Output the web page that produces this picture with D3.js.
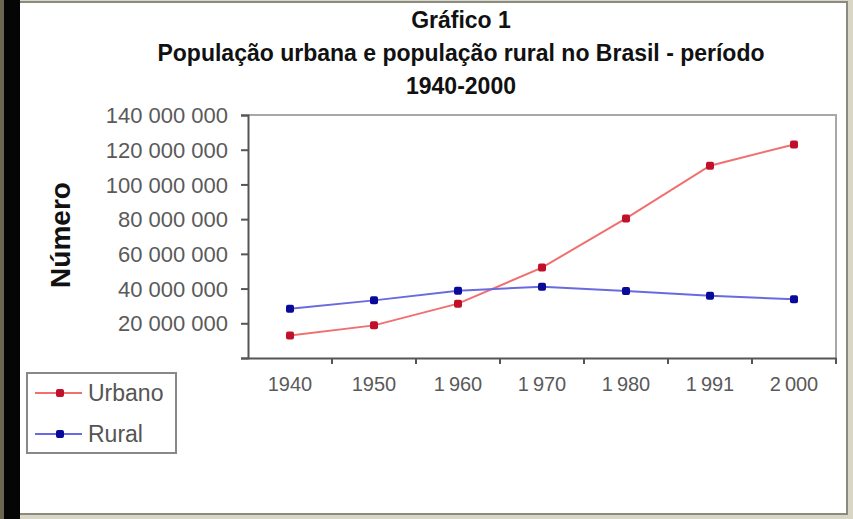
<!DOCTYPE html>
<html>
<head>
<meta charset="utf-8">
<script src="https://cdn.jsdelivr.net/npm/d3@7"></script>
<style>
  body { margin: 0; background: #fff; }
  svg text { font-family: "Liberation Sans", Arial, sans-serif; }
</style>
</head>
<body>
<div id="chart"></div>
<script>
// chart data
var years = ["1940", "1950", "1\u202F960", "1\u202F970", "1\u202F980", "1\u202F991", "2\u202F000"];
var urbano = [12900000, 18800000, 31300000, 52100000, 80400000, 110800000, 123000000];
var rural = [28400000, 33200000, 38800000, 41100000, 38600000, 35800000, 33900000];
var yTicks = [0, 20000000, 40000000, 60000000, 80000000, 100000000, 120000000, 140000000];
var titleLines = ["Gráfico 1", "População urbana e população rural no Brasil - período", "1940-2000"];

var width = 853, height = 519;
var margin = {top: 115, right: 17, bottom: 160, left: 248};

var svg = d3.select("#chart")
    .append("svg")
    .attr("width", width)
    .attr("height", height);

// outer frame
svg.append("rect").attr("x", 0).attr("y", 0).attr("width", width).attr("height", height).attr("fill", "#d9d6c6");
svg.append("rect").attr("x", 5).attr("y", 2).attr("width", 842).attr("height", 512).attr("fill", "#fff")
    .attr("stroke", "#8a8a80").attr("stroke-width", 2);
svg.append("rect").attr("x", 0).attr("y", 0).attr("width", 20).attr("height", height).attr("fill", "#050505");
svg.append("rect").attr("x", 0).attr("y", 0).attr("width", 4).attr("height", height).attr("fill", "#6b6650");

var x = d3.scaleBand()
    .domain(years)
    .range([margin.left, width - margin.right]);

var y = d3.scaleLinear()
    .domain([0, 140000000])
    .range([height - margin.bottom - 1, margin.top]);

// plot border (top/right)
svg.append("path")
    .attr("d", "M" + margin.left + "," + margin.top + "H" + (width - margin.right) + "V" + y(0))
    .attr("fill", "none")
    .attr("stroke", "#a8a8a8")
    .attr("stroke-width", 2);

// y axis
var fmt = function(d) {
    if (d === 0) return "";
    return d3.format(",")(d).replace(/,/g, " ");
};
var yAxis = svg.append("g")
    .attr("transform", "translate(" + margin.left + ",0)")
    .call(d3.axisLeft(y).tickValues(yTicks).tickFormat(fmt).tickSize(7).tickPadding(13));
yAxis.selectAll("text")
    .attr("fill", "#5a5a5a")
    .style("font-size", "22px")
    .attr("dy", "0.35em");

// x axis - ticks at category boundaries
var xAxis = svg.append("g")
    .attr("transform", "translate(0," + y(0) + ")")
    .call(d3.axisBottom(x).tickSize(0).tickPadding(19));
xAxis.selectAll("text")
    .attr("fill", "#5a5a5a")
    .style("font-size", "20px");
xAxis.selectAll(".tick")
    .append("line")
    .attr("x1", x.bandwidth() / 2).attr("x2", x.bandwidth() / 2)
    .attr("y1", 0).attr("y2", 6)
    .attr("stroke", "#555");

svg.selectAll(".domain").attr("stroke", "#555").attr("stroke-width", 2);
svg.selectAll(".tick line").attr("stroke", "#555").attr("stroke-width", 2);

// lines
var line = d3.line()
    .x(function(d, i) { return x(years[i]) + x.bandwidth() / 2; })
    .y(function(d) { return y(d); });

var series = [
    {name: "Urbano", values: urbano, line: "#f07070", dot: "#c0102a"},
    {name: "Rural", values: rural, line: "#6a6ae0", dot: "#0a0a9a"}
];

series.forEach(function(s) {
    svg.append("path")
        .datum(s.values)
        .attr("d", line)
        .attr("fill", "none")
        .attr("stroke", s.line)
        .attr("stroke-width", 2);
    svg.selectAll(".dot-" + s.name)
        .data(s.values)
        .enter()
        .append("rect")
        .attr("x", function(d, i) { return x(years[i]) + x.bandwidth() / 2 - 4; })
        .attr("y", function(d) { return y(d) - 4; })
        .attr("width", 8)
        .attr("height", 8)
        .attr("rx", 2)
        .attr("fill", s.dot);
});

// titles
svg.selectAll(".title")
    .data(titleLines)
    .enter()
    .append("text")
    .attr("x", 461)
    .attr("y", function(d, i) { return 28 + i * 33; })
    .attr("text-anchor", "middle")
    .style("font-size", "23px")
    .style("font-weight", "bold")
    .attr("fill", "#111")
    .text(function(d) { return d; });

// y axis label
svg.append("text")
    .attr("transform", "translate(70,235) rotate(-90)")
    .attr("text-anchor", "middle")
    .style("font-size", "28px")
    .style("font-weight", "bold")
    .attr("fill", "#111")
    .text("Número");

// legend
var legend = svg.append("g");
legend.append("rect")
    .attr("x", 27).attr("y", 373).attr("width", 149).attr("height", 80)
    .attr("fill", "#fff").attr("stroke", "#888").attr("stroke-width", 2);
series.forEach(function(s, i) {
    var ly = 393 + i * 41;
    legend.append("line")
        .attr("x1", 35).attr("x2", 82).attr("y1", ly).attr("y2", ly)
        .attr("stroke", s.line).attr("stroke-width", 2);
    legend.append("rect")
        .attr("x", 56).attr("y", ly - 4).attr("width", 8).attr("height", 8).attr("rx", 2)
        .attr("fill", s.dot);
    legend.append("text")
        .attr("x", 88).attr("y", ly).attr("dy", "0.35em")
        .style("font-size", "23px")
        .attr("fill", "#555")
        .text(s.name);
});
</script>
</body>
</html>
